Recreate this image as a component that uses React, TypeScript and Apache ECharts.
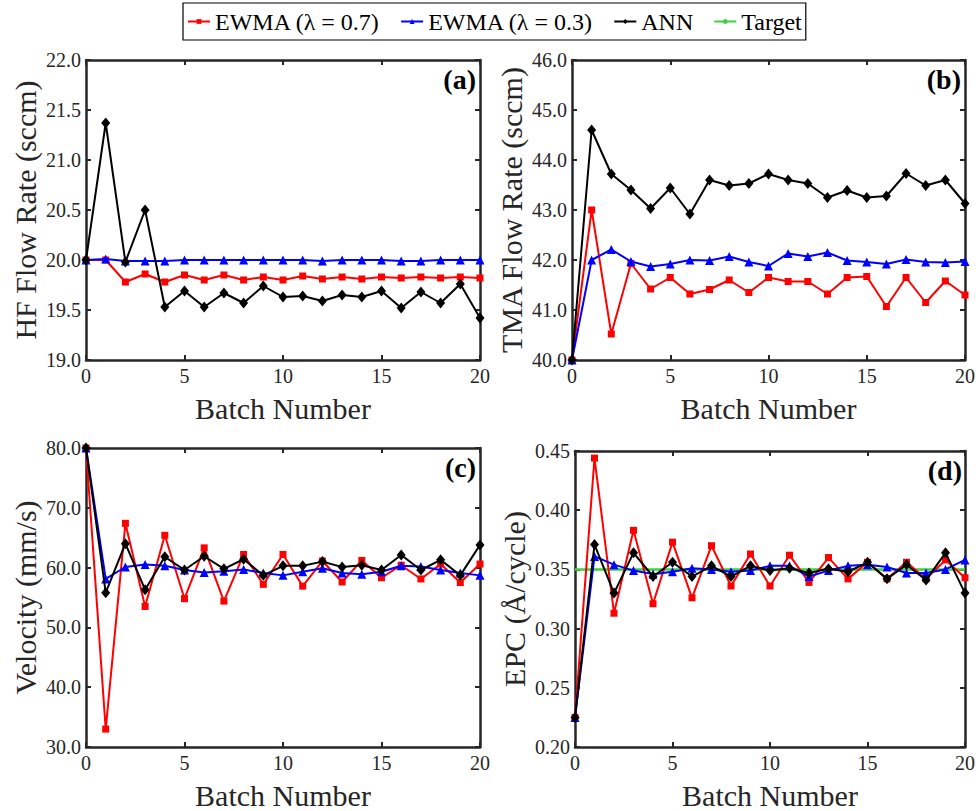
import React, { useEffect, useRef } from "react";
import * as echarts from "echarts";

const BATCHES = [0, 1, 2, 3, 4, 5, 6, 7, 8, 9, 10, 11, 12, 13, 14, 15, 16, 17, 18, 19, 20];

const SERIES_NAMES = ["EWMA (λ = 0.7)", "EWMA (λ = 0.3)", "ANN", "Target"];

const A_RED = [20.0, 20.0, 19.78, 19.86, 19.78, 19.85, 19.8, 19.85, 19.8, 19.83, 19.8, 19.84, 19.81, 19.83, 19.81, 19.83, 19.82, 19.83, 19.82, 19.83, 19.82];
const A_BLUE = [20.0, 20.01, 19.99, 19.99, 19.99, 20.0, 20.0, 20.0, 20.0, 20.0, 20.0, 20.0, 19.99, 20.0, 20.0, 20.0, 19.99, 19.99, 20.0, 20.0, 20.0];
const A_ANN = [20.0, 21.37, 19.98, 20.5, 19.53, 19.69, 19.53, 19.67, 19.57, 19.74, 19.63, 19.64, 19.59, 19.65, 19.63, 19.69, 19.52, 19.68, 19.57, 19.76, 19.42];

const B_RED = [40.0, 43.0, 40.52, 41.93, 41.42, 41.65, 41.32, 41.41, 41.6, 41.35, 41.65, 41.57, 41.57, 41.32, 41.65, 41.67, 41.07, 41.65, 41.15, 41.58, 41.3];
const B_BLUE = [40.0, 42.0, 42.21, 41.97, 41.87, 41.92, 42.0, 41.99, 42.07, 41.96, 41.88, 42.13, 42.07, 42.15, 41.99, 41.96, 41.92, 42.01, 41.96, 41.95, 41.97];
const B_ANN = [40.0, 44.6, 43.72, 43.4, 43.03, 43.44, 42.92, 43.6, 43.49, 43.53, 43.72, 43.6, 43.53, 43.25, 43.39, 43.25, 43.28, 43.73, 43.49, 43.6, 43.13];

const C_RED = [80.0, 33.0, 67.4, 53.5, 65.4, 54.8, 63.3, 54.4, 62.2, 57.2, 62.2, 56.9, 61.1, 57.6, 61.2, 58.3, 60.4, 58.1, 60.6, 57.5, 60.6];
const C_BLUE = [80.0, 58.1, 60.1, 60.5, 60.3, 59.6, 59.2, 59.4, 59.7, 59.1, 58.7, 59.3, 59.9, 59.1, 58.9, 59.3, 60.3, 60.2, 59.6, 59.1, 58.7];
const C_ANN = [80.0, 55.8, 64.0, 56.3, 61.8, 59.6, 61.9, 59.8, 61.4, 58.7, 60.3, 60.3, 61.0, 60.1, 60.4, 59.6, 62.1, 59.6, 61.3, 58.7, 63.8];

const D_RED = [0.225, 0.444, 0.313, 0.383, 0.321, 0.373, 0.326, 0.37, 0.336, 0.363, 0.336, 0.362, 0.339, 0.36, 0.342, 0.356, 0.342, 0.356, 0.342, 0.358, 0.343];
const D_BLUE = [0.225, 0.361, 0.354, 0.349, 0.346, 0.348, 0.351, 0.35, 0.348, 0.349, 0.353, 0.353, 0.344, 0.349, 0.353, 0.354, 0.352, 0.347, 0.347, 0.35, 0.358];
const D_ANN = [0.225, 0.371, 0.33, 0.364, 0.344, 0.356, 0.344, 0.353, 0.344, 0.353, 0.349, 0.351, 0.347, 0.3505, 0.348, 0.356, 0.342, 0.354, 0.341, 0.364, 0.33];
const D_TARGET = [0.35, 0.35, 0.35, 0.35, 0.35, 0.35, 0.35, 0.35, 0.35, 0.35, 0.35, 0.35, 0.35, 0.35, 0.35, 0.35, 0.35, 0.35, 0.35, 0.35, 0.35];

const PANELS = [
  { label: "(a)", yName: "HF Flow Rate (sccm)", min: 19, max: 22, interval: 0.5, dec: 1, red: A_RED, blue: A_BLUE, ann: A_ANN, target: null as number[] | null },
  { label: "(b)", yName: "TMA Flow Rate (sccm)", min: 40, max: 46, interval: 1, dec: 1, red: B_RED, blue: B_BLUE, ann: B_ANN, target: null as number[] | null },
  { label: "(c)", yName: "Velocity (mm/s)", min: 30, max: 80, interval: 10, dec: 1, red: C_RED, blue: C_BLUE, ann: C_ANN, target: null as number[] | null },
  { label: "(d)", yName: "EPC (Å/cycle)", min: 0.2, max: 0.45, interval: 0.05, dec: 2, red: D_RED, blue: D_BLUE, ann: D_ANN, target: D_TARGET },
];

const GRIDS = [
  { left: 86, right: 498, top: 60, bottom: 451 },
  { left: 572, right: 13, top: 60, bottom: 451 },
  { left: 86, right: 498, top: 448, bottom: 63 },
  { left: 575, right: 12, top: 451, bottom: 62 },
];

const FONT = "'Liberation Serif', 'Times New Roman', serif";
const AXIS_COLOR = "#262626";

export default function App() {
  const ref = useRef<HTMLDivElement>(null);
  useEffect(() => {
    if (!ref.current) return;
    const chart = echarts.init(ref.current, undefined, { renderer: "svg" });
    const xAxes: any[] = [];
    const yAxes: any[] = [];
    const series: any[] = [];
    const graphics: any[] = [];
    const W = 978;
    PANELS.forEach((p, g) => {
      const lineStyle = { color: AXIS_COLOR, width: 2.5 };
      const tick = { inside: true, length: 5, lineStyle: { color: AXIS_COLOR, width: 2 } };
      xAxes.push({
        type: "value", gridIndex: g, min: 0, max: 20, interval: 5, position: "bottom",
        name: "Batch Number", nameLocation: "middle", nameGap: 33,
        nameTextStyle: { fontSize: 30, fontFamily: FONT, color: AXIS_COLOR },
        axisLine: { show: true, onZero: false, lineStyle }, axisTick: tick,
        axisLabel: { fontSize: 20, fontFamily: FONT, color: AXIS_COLOR, margin: 6 },
        splitLine: { show: false },
      });
      xAxes.push({
        type: "value", gridIndex: g, min: 0, max: 20, interval: 5, position: "top",
        axisLine: { show: true, onZero: false, lineStyle }, axisTick: tick,
        axisLabel: { show: false }, splitLine: { show: false },
      });
      yAxes.push({
        type: "value", gridIndex: g, min: p.min, max: p.max, interval: p.interval, position: "left",
        name: p.yName, nameLocation: "middle", nameGap: 46,
        nameTextStyle: { fontSize: 30, fontFamily: FONT, color: AXIS_COLOR },
        axisLine: { show: true, onZero: false, lineStyle }, axisTick: tick,
        axisLabel: { fontSize: 20, fontFamily: FONT, color: AXIS_COLOR, margin: 5, formatter: (v: number) => v.toFixed(p.dec) },
        splitLine: { show: false },
      });
      yAxes.push({
        type: "value", gridIndex: g, min: p.min, max: p.max, interval: p.interval, position: "right",
        axisLine: { show: true, onZero: false, lineStyle }, axisTick: tick,
        axisLabel: { show: false }, splitLine: { show: false },
      });
      const xi = 2 * g;
      const yi = 2 * g;
      if (p.target) {
        series.push({
          type: "line", name: SERIES_NAMES[3], xAxisIndex: xi, yAxisIndex: yi,
          data: BATCHES.map((b, i) => [b, p.target![i]]), symbol: "none",
          lineStyle: { color: "#3cd23c", width: 2.5 }, itemStyle: { color: "#3cd23c" }, z: 1,
        });
      }
      series.push({
        type: "line", name: SERIES_NAMES[0], xAxisIndex: xi, yAxisIndex: yi,
        data: BATCHES.map((b, i) => [b, p.red[i]]), symbol: "rect", symbolSize: 7,
        lineStyle: { color: "#ff0000", width: 2 }, itemStyle: { color: "#ff0000" }, z: 2,
      });
      series.push({
        type: "line", name: SERIES_NAMES[1], xAxisIndex: xi, yAxisIndex: yi,
        data: BATCHES.map((b, i) => [b, p.blue[i]]), symbol: "triangle", symbolSize: 9,
        lineStyle: { color: "#0000ff", width: 2 }, itemStyle: { color: "#0000ff" }, z: 3,
      });
      series.push({
        type: "line", name: SERIES_NAMES[2], xAxisIndex: xi, yAxisIndex: yi,
        data: BATCHES.map((b, i) => [b, p.ann[i]]), symbol: "diamond", symbolSize: [9, 11],
        lineStyle: { color: "#000000", width: 2 }, itemStyle: { color: "#000000" }, z: 4,
      });
      const gr = GRIDS[g];
      graphics.push({
        type: "text", x: W - gr.right - 4, y: gr.top + 5,
        style: { text: p.label, fontSize: 28, fontWeight: "bold", fontFamily: FONT, fill: "#000", align: "right", verticalAlign: "top" },
        z: 10,
      });
    });

    chart.setOption({
      animation: false,
      backgroundColor: "#fff",
      grid: GRIDS.map((g) => ({ ...g, containLabel: false })),
      xAxis: xAxes,
      yAxis: yAxes,
      legend: {
        data: SERIES_NAMES,
        left: 183, top: 3,
        itemWidth: 22, itemHeight: 6, itemGap: 20,
        padding: [5, 4],
        borderColor: "#000", borderWidth: 1.2, backgroundColor: "#fff",
        textStyle: { fontSize: 24, fontFamily: FONT, color: "#000", lineHeight: 27 },
      },
      series,
      graphic: graphics,
    });
    return () => chart.dispose();
  }, []);
  return <div ref={ref} style={{ position: "absolute", left: 0, top: 0, width: 978, height: 811 }} />;
}
